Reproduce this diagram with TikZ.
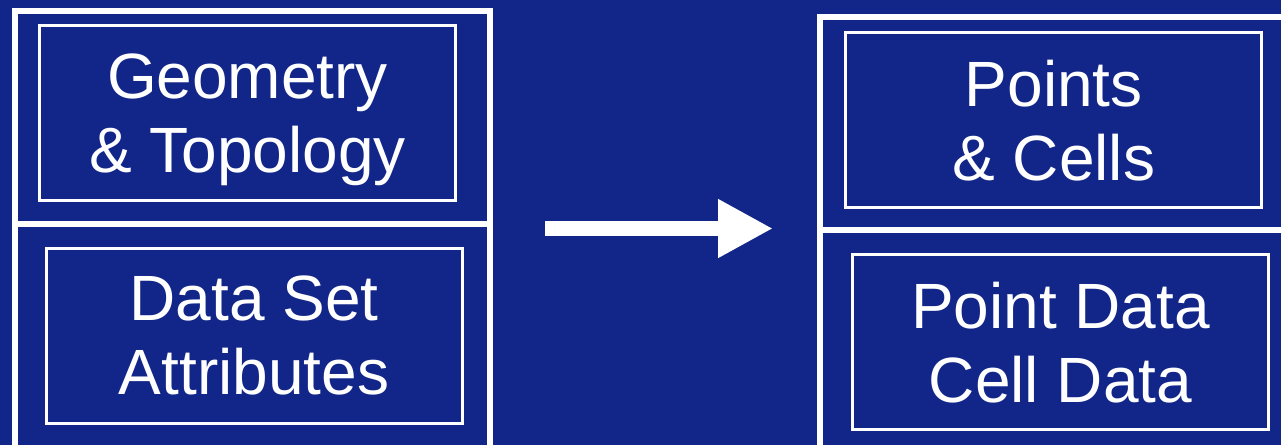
\documentclass[tikz,border=0pt]{standalone}
\usepackage{xcolor}
\usepackage{fontspec}
\setmainfont{Liberation Sans}
\usepackage{tikz}
\usetikzlibrary{arrows.meta}
\definecolor{bg_blue}{RGB}{18,38,137}
\tikzset{
    frame_style/.style={
        draw=white,           % 外框颜色
        line width=6pt        % 外框加粗
    },
    box_style/.style={
        rectangle,            % 内框为矩形
        draw=white,
        line width=3pt,
        minimum width=416pt,
        minimum height=175pt,
        align=center,
        text=white,
        text depth=0pt,
        font=\fontsize{64}{74}\selectfont
    },
    arrow_style/.style={
        -{Triangle[length=55pt,width=55pt]},
        draw=white,
        fill=white,
        line width=15pt
    }
}
\begin{document}
\begin{tikzpicture}[x=1pt,y=-1pt]
            % 0. 背景与裁剪
            \useasboundingbox (0,0) rectangle (1281,445);
            \fill[bg_blue] (0,0) rectangle (1281,445);
            \clip (0,0) rectangle (1281,445);

            % 1. 左右两个外框
            \draw[frame_style] (14.5,10.5) rectangle (490,470);
            \draw[frame_style] (14.5,224) -- (490,224);
            \draw[frame_style] (820,17) rectangle (1320,470);
            \draw[frame_style] (820,230) -- (1320,230);

            % 2. 内框节点
            \node[box_style] (geom) at (247.5,113.25) {Geometry\\\& Topology};
            \node[box_style] (attr) at (254,335.5) {Data Set\\Attributes};
            \node[box_style] (cells) at (1053.75,120.25) {Points\\\& Cells};
            \node[box_style] (pdata) at (1060.5,342) {Point Data\\Cell Data};

            % 3. 中间的箭头
            \coordinate (a_start) at (545,228.5);
            \coordinate (a_end) at (773,228.5);
            \draw[arrow_style] (a_start) -- (a_end);
        \end{tikzpicture}
\end{document}
